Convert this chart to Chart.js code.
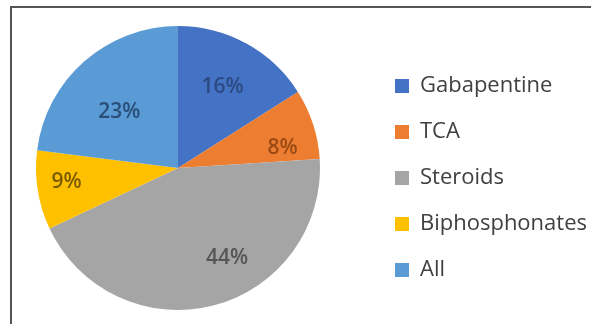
<!DOCTYPE html>
<html lang="en">
<head>
    <meta charset="UTF-8">
    <title>Treatment share</title>
    <script src="https://cdn.jsdelivr.net/npm/chart.js"></script>
    <style>
        html, body {
            margin: 0;
            padding: 0;
            background: #fff;
            overflow: hidden;
        }
        .wrap {
            position: relative;
            width: 591px;
            height: 324px;
            overflow: hidden;
        }
        .frame {
            position: absolute;
            left: 10px;
            top: 6px;
            width: 620px;
            height: 340px;
            border: 2px solid #555;
            pointer-events: none;
        }
        /* canvas is a little wider than the window so the pie sits left of centre */
        canvas {
            position: absolute;
            left: -15px;
            top: 0;
        }
    </style>
</head>
<body>
<div class="wrap">
    <canvas id="pieChart" width="612" height="324"></canvas>
    <div class="frame"></div>
</div>

<script>
    const categories = ['Gabapentine', 'TCA', 'Steroids', 'Biphosphonates', 'All'];
    const percents = [16, 8, 44, 9, 23];

    const sliceColors = ['#4472C4', '#ED7D31', '#A5A5A5', '#FFC000', '#5B9BD5'];
    const labelColors = ['#2C4A82', '#9A4A15', '#555555', '#7A5C00', '#2A4E78'];

    // where each percent label sits: t = fraction along the slice, r = fraction of radius
    const labelAnchors = [
        {t: 0.5, r: 0.65},
        {t: 0.74, r: 0.75},
        {t: 0.41, r: 0.72},
        {t: 0.56, r: 0.79},
        {t: 0.44, r: 0.57}
    ];

    const sliceLabels = {
        id: 'sliceLabels',
        afterDatasetsDraw(chart) {
            const ctx = chart.ctx;
            const meta = chart.getDatasetMeta(0);
            const values = chart.data.datasets[0].data;
            ctx.save();
            ctx.font = '600 21px "Open Sans"';
            ctx.textAlign = 'center';
            ctx.textBaseline = 'middle';
            meta.data.forEach((arc, i) => {
                const p = arc.getProps(['x', 'y', 'startAngle', 'endAngle', 'outerRadius'], true);
                const a = labelAnchors[i];
                const ang = p.startAngle + (p.endAngle - p.startAngle) * a.t;
                const rad = p.outerRadius * a.r;
                ctx.fillStyle = labelColors[i];
                ctx.fillText(values[i] + '%', p.x + Math.cos(ang) * rad, p.y + Math.sin(ang) * rad);
            });
            ctx.restore();
        }
    };

    new Chart(document.getElementById('pieChart'), {
        type: 'pie',
        data: {
            labels: categories,
            datasets: [{
                data: percents,
                backgroundColor: sliceColors,
                borderWidth: 0,
                radius: 142
            }]
        },
        options: {
            responsive: false,
            animation: false,
            events: [],
            layout: {
                padding: {left: 0, right: 0, top: 12, bottom: 0}
            },
            plugins: {
                tooltip: {enabled: false},
                legend: {
                    position: 'right',
                    // blank title only pushes the legend items down a little
                    title: {
                        display: true,
                        text: ' ',
                        font: {size: 10, lineHeight: 2}
                    },
                    labels: {
                        boxWidth: 14,
                        boxHeight: 14,
                        padding: 24,
                        color: '#404040',
                        font: {family: '"Open Sans"', size: 22}
                    }
                }
            }
        },
        plugins: [sliceLabels]
    });
</script>
</body>
</html>
